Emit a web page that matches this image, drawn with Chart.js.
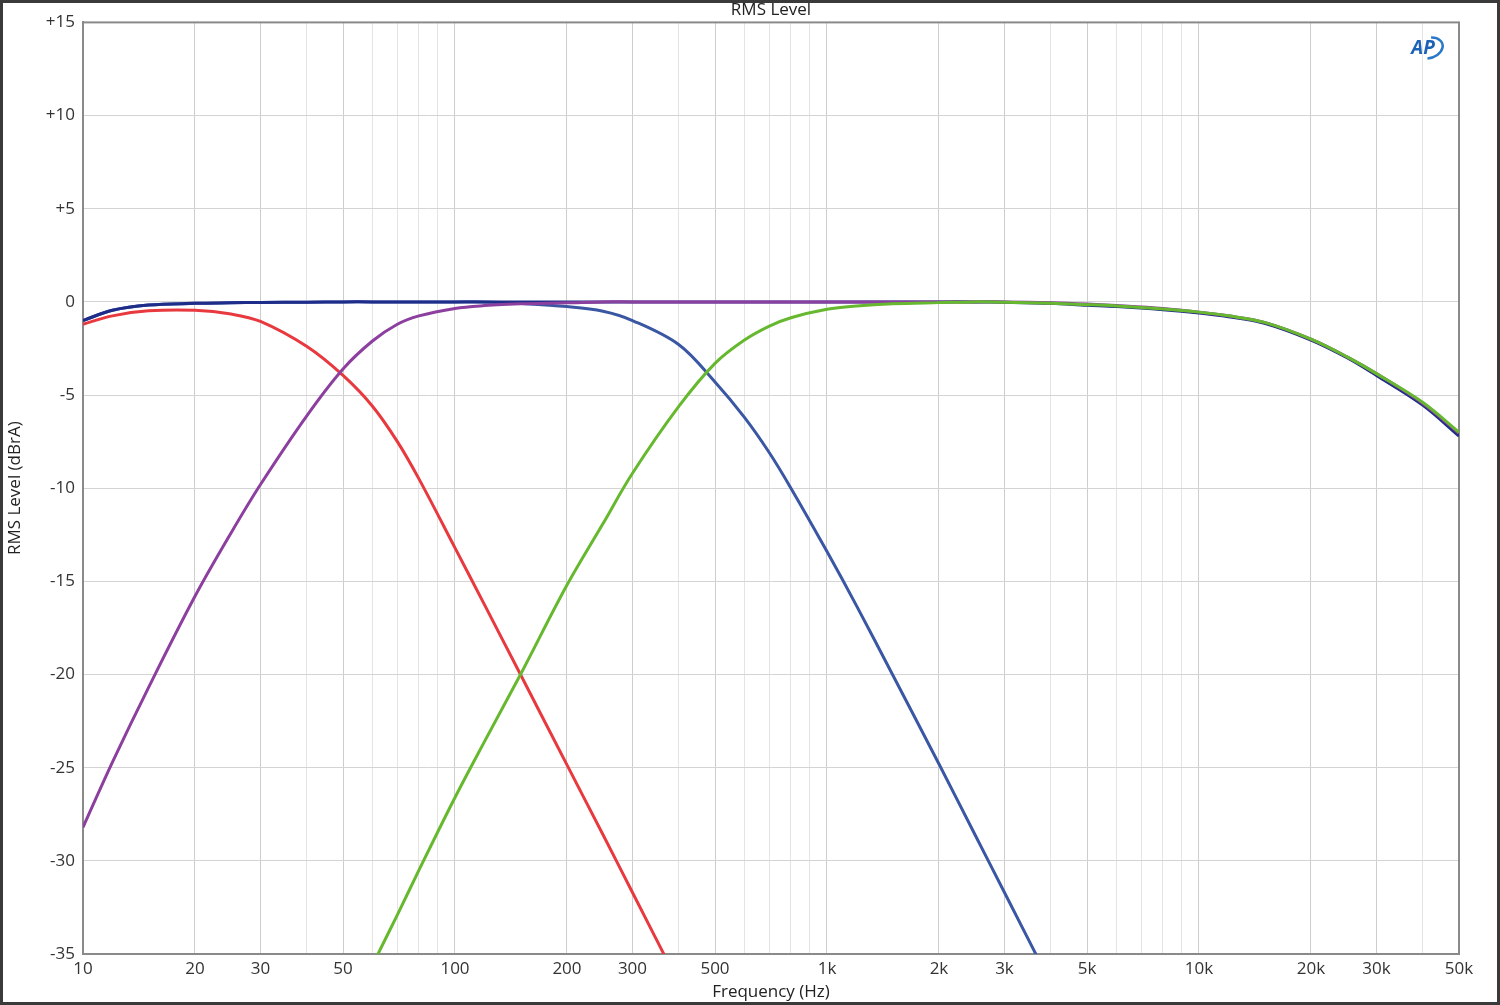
<!DOCTYPE html>
<html lang="en">
<head>
    <meta charset="UTF-8">
    <title>RMS Level</title>
    <style>
        body { margin: 0; background: #fff; }
        #wrap { width: 1500px; height: 1005px; position: relative; }
    </style>
</head>
<body>
    <div id="wrap"><canvas id="lineChart"></canvas></div>
    <script src="https://cdn.jsdelivr.net/npm/chart.js@4.4.1/dist/chart.umd.min.js"></script>
    <script>
        // frequency points (Hz)
        const freqs = [10, 12, 15, 20, 25, 30, 40, 50, 60, 70, 80, 100, 120, 150, 200, 250, 300, 400, 500, 600, 700, 800,
            1000, 1200, 1500, 2000, 2500, 3000, 4000, 5000, 6000, 8000, 10000, 12000, 15000, 20000, 25000, 30000, 40000, 50000];

        // levels in dBrA (null = off the bottom of the chart)
        const greenLevel = [null, null, null, null, null, null, null, -38.9, -35.6, -32.9, -30.5, -26.6, -23.6, -20.0, -15.2, -11.9, -9.2, -5.6, -3.3, -2.05, -1.3, -0.85,
            -0.4, -0.22, -0.1, -0.04, 0, -0.02, -0.08, -0.15, -0.22, -0.38, -0.55, -0.75, -1.1, -2.0, -2.95, -3.85, -5.4, -7.0];
        const purpleLevel = [-28.2, -24.7, -20.7, -15.8, -12.4, -9.8, -6.1, -3.6, -2.1, -1.2, -0.75, -0.35, -0.2, -0.1, -0.05, 0, 0, 0, 0, 0, 0, 0,
            0, 0, 0, 0, 0, 0, -0.05, -0.12, -0.2, -0.36, -0.55, -0.75, -1.1, -2.0, -2.95, -3.85, -5.45, -7.05];
        const navyLevel = [-1.0, -0.45, -0.17, -0.08, -0.05, -0.03, -0.02, 0, 0, 0, 0, 0, 0, 0, 0, 0, 0, 0, 0, 0, 0, 0,
            0, 0, 0, 0, 0, -0.02, -0.08, -0.18, -0.25, -0.42, -0.6, -0.8, -1.15, -2.05, -3.0, -3.95, -5.55, -7.2];
        const redLevel = [-1.2, -0.75, -0.48, -0.45, -0.65, -1.05, -2.4, -3.95, -5.6, -7.5, -9.5, -13.2, -16.25, -20.0, -24.85, -28.6, -31.7, -36.6, null, null, null, null,
            null, null, null, null, null, null, null, null, null, null, null, null, null, null, null, null, null, null];
        const blueLevel = [-1.0, -0.45, -0.17, -0.08, -0.05, -0.03, -0.02, 0, 0, 0, 0, 0, 0, -0.08, -0.25, -0.5, -1.0, -2.3, -4.3, -6.2, -8.1, -10.0,
            -13.4, -16.3, -20.0, -24.8, -28.6, -31.7, -36.6, null, null, null, null, null, null, null, null, null, null, null];

        // x-axis labelled frequencies
        const labelFreqs = [10, 20, 30, 50, 100, 200, 300, 500, 1000, 2000, 3000, 5000, 10000, 20000, 30000, 50000];
        const labelTexts = ["10", "20", "30", "50", "100", "200", "300", "500", "1k", "2k", "3k", "5k", "10k", "20k", "30k", "50k"];

        const toPoints = levels => freqs.map((f, i) => ({ x: f, y: levels[i] }));

        // vertical grid: every 1..9 x decade
        const gridFreqs = [];
        for (let d = 10; d <= 10000; d *= 10) {
            for (let m = 1; m <= 9; m++) {
                if (d * m <= 50000) gridFreqs.push(d * m);
            }
        }

        const font = { family: "'Open Sans', 'Noto Sans', sans-serif", size: 17, weight: "normal" };

        const frame = {
            id: "frame",
            beforeDraw(chart) {
                const c = chart.ctx;
                c.save();
                c.fillStyle = "#fff";
                c.fillRect(0, 0, chart.width, chart.height);
                c.restore();
            },
            beforeDatasetsDraw(chart) {
                const a = chart.chartArea;
                const c = chart.ctx;
                c.save();
                c.strokeStyle = "#8a8a8a";
                c.lineWidth = 2;
                c.strokeRect(a.left, a.top, a.right - a.left, a.bottom - a.top);
                c.restore();
            },
            afterDraw(chart) {
                const c = chart.ctx;
                c.save();
                c.strokeStyle = "#3a3a3a";
                c.lineWidth = 3;
                c.strokeRect(1.5, 1.5, chart.width - 3, chart.height - 3);
                // AP logo
                c.strokeStyle = "#2a78c8";
                c.lineWidth = 2.5;
                c.beginPath();
                c.ellipse(1429, 48, 14, 10, -0.3, -1.2, 1.9);
                c.stroke();
                c.fillStyle = "#1c63b8";
                c.font = "italic bold 19px 'Open Sans', sans-serif";
                c.textAlign = "center";
                c.textBaseline = "middle";
                c.fillText("AP", 1423, 49);
                c.restore();
            }
        };

        const ctx = document.getElementById("lineChart").getContext("2d");
        const myLineChart = new Chart(ctx, {
            type: "line",
            data: {
                datasets: [
                    { data: toPoints(greenLevel), borderColor: "#66b82e" },
                    { data: toPoints(purpleLevel), borderColor: "#8c3f9e" },
                    { data: toPoints(navyLevel), borderColor: "#1f2d8a" },
                    { data: toPoints(redLevel), borderColor: "#e8393f" },
                    { data: toPoints(blueLevel), borderColor: "#3a57a4" }
                ].map(ds => Object.assign(ds, {
                    borderWidth: 3,
                    pointRadius: 0,
                    tension: 0.35,
                    fill: false
                }))
            },
            options: {
                responsive: true,
                maintainAspectRatio: false,
                animation: false,
                layout: { padding: { top: 0, right: 41, bottom: 0, left: 0 } },
                plugins: {
                    legend: { display: false },
                    tooltip: { enabled: false },
                    title: {
                        display: true,
                        text: "RMS Level",
                        fullSize: false,
                        color: "#222",
                        font: font,
                        padding: { top: 0, bottom: 2 }
                    }
                },
                scales: {
                    x: {
                        type: "logarithmic",
                        min: 10,
                        max: 50000,
                        afterBuildTicks: scale => {
                            scale.ticks = gridFreqs.map(v => ({ value: v }));
                        },
                        afterFit: scale => { scale.height = 51; },
                        ticks: {
                            autoSkip: false,
                            maxRotation: 0,
                            padding: 5,
                            color: "#333",
                            font: font,
                            callback: value => {
                                const i = labelFreqs.indexOf(value);
                                return i >= 0 ? labelTexts[i] : "";
                            }
                        },
                        grid: {
                            drawTicks: false,
                            color: c => labelFreqs.includes(c.tick && c.tick.value) ? "#cdcdcd" : "#e4e4e4",
                            lineWidth: 1
                        },
                        border: { color: "#8a8a8a", width: 2 },
                        title: {
                            display: true,
                            text: "Frequency (Hz)",
                            color: "#222",
                            font: font,
                            padding: { top: 0, bottom: 3 }
                        }
                    },
                    y: {
                        type: "linear",
                        min: -35,
                        max: 15,
                        afterFit: scale => { scale.width = 83; },
                        ticks: {
                            stepSize: 5,
                            padding: 8,
                            color: "#333",
                            font: font,
                            callback: value => (value > 0 ? "+" + value : String(value))
                        },
                        grid: { drawTicks: false, color: "#d4d4d4", lineWidth: 1 },
                        border: { color: "#8a8a8a", width: 2 },
                        title: {
                            display: true,
                            text: "RMS Level (dBrA)",
                            color: "#222",
                            font: font,
                            padding: { top: 5, bottom: 0 }
                        }
                    }
                }
            },
            plugins: [frame]
        });
    </script>
</body>
</html>
